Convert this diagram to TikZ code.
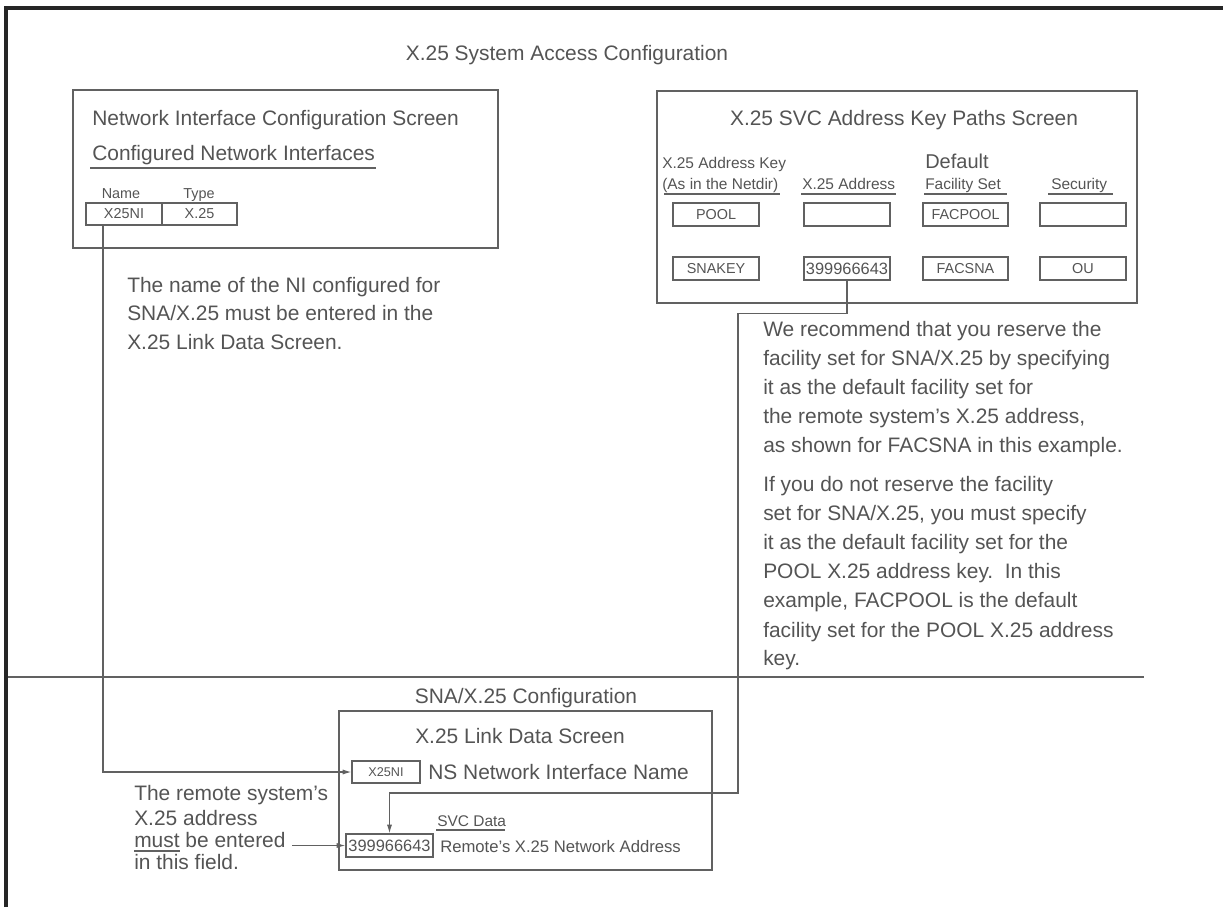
\documentclass[tikz,border=0pt]{standalone}
\usepackage{fontspec}
\setmainfont{Liberation Sans}
\usetikzlibrary{arrows.meta}
\definecolor{ink}{gray}{0.33}
\definecolor{rulec}{gray}{0.38}
\newcommand\fA{\fontsize{15.7}{18}\selectfont}
\newcommand\fB{\fontsize{11.6}{14}\selectfont}
\newcommand\fC{\fontsize{10.8}{13}\selectfont}
\newcommand\fD{\fontsize{12.3}{14}\selectfont}
\newcommand\fDef{\fontsize{15}{17}\selectfont}
\newcommand\fE{\fontsize{9.5}{11}\selectfont}
\newcommand\fF{\fontsize{12.5}{14}\selectfont}
\begin{document}
\begin{tikzpicture}[x=0.75pt,y=-0.75pt,
  txt/.style={inner sep=0pt, text=ink, font=\fA},
  fieldbox/.style={draw=rulec, line width=0.9pt, inner sep=0pt, text=ink},
  screen/.style={draw=rulec, line width=0.9pt, inner sep=0pt},
  conn/.style={draw=rulec, line width=0.9pt},
  arr/.style={conn, -{Latex[length=6.5pt,width=3.8pt]}},
  uline/.style={draw=rulec, line width=0.8pt}]

\useasboundingbox (0,0) rectangle (1223,907);
\draw[line width=2.3pt, black!85] (6,907) -- (6,8) -- (1223,8);

% top title
\node[txt, anchor=base] (ttl) at (567,60) {X.25 System Access Configuration};

% Network Interface Configuration Screen
\node[screen, minimum width=318.75pt, minimum height=118.5pt] (nis) at (285.5,169) {};
\node[txt, anchor=base west] (nist) at (92,125) {Network Interface Configuration Screen};
\node[txt, anchor=base west] (cni) at (92,160) {Configured Network Interfaces};
\draw[uline] (90,168) -- (376,168);
\node[txt, font=\fC, anchor=base] (nmh) at (121,198) {Name};
\node[txt, font=\fC, anchor=base] (tyh) at (199,198) {Type};
\node[fieldbox, font=\fC, minimum width=57pt, minimum height=16.5pt] (nicell) at (124,214) {X25NI};
\node[fieldbox, font=\fC, minimum width=56.25pt, minimum height=16.5pt] (tycell) at (199.5,214) {X.25};

\node[txt, anchor=base west] (n1) at (127,292) {The name of the NI configured for};
\node[txt, anchor=base west] (n2) at (127,320) {SNA/X.25 must be entered in the};
\node[txt, anchor=base west] (n3) at (127,349) {X.25 Link Data Screen.};

% X.25 SVC Address Key Paths Screen
\node[screen, minimum width=360pt, minimum height=159pt] (svc) at (897,197) {};
\node[txt, anchor=base] (svct) at (904,125) {X.25 SVC Address Key Paths Screen};
\node[txt, font=\fB, anchor=base west] (h1a) at (662,168) {X.25 Address Key};
\node[txt, font=\fB, anchor=base west] (h1b) at (662,189) {(As in the Netdir)};
\node[txt, font=\fB, anchor=base west] (h2) at (802,189) {X.25 Address};
\node[txt, font=\fDef, anchor=base west] (h3a) at (925,168) {Default};
\node[txt, font=\fB, anchor=base west] (h3b) at (925,189) {Facility Set};
\node[txt, font=\fB, anchor=base west] (h4) at (1051,189) {Security};
\draw[uline] (664,194) -- (780,194);
\draw[uline] (801,194) -- (896,194);
\draw[uline] (924,194) -- (1007,194);
\draw[uline] (1048,194) -- (1113,194);

\node[fieldbox, font=\fC, minimum width=64.5pt, minimum height=17.25pt] (key1) at (716,214.5) {POOL};
\node[fieldbox, font=\fC, minimum width=64.5pt, minimum height=17.25pt] (addr1) at (847,214.5) {};
\node[fieldbox, font=\fC, minimum width=63.75pt, minimum height=17.25pt] (fac1) at (965.5,214.5) {FACPOOL};
\node[fieldbox, font=\fC, minimum width=64.5pt, minimum height=17.25pt] (sec1) at (1083,214.5) {};
\node[fieldbox, font=\fC, minimum width=64.5pt, minimum height=17.25pt] (key2) at (716,268.5) {SNAKEY};
\node[fieldbox, font=\fD, minimum width=64.5pt, minimum height=17.25pt] (addr2) at (847,268.5) {399966643};
\node[fieldbox, font=\fC, minimum width=63.75pt, minimum height=17.25pt] (fac2) at (965.5,268.5) {FACSNA};
\node[fieldbox, font=\fC, minimum width=64.5pt, minimum height=17.25pt] (sec2) at (1083,268.5) {OU};

% right explanatory text
\node[txt, anchor=base west] (p1) at (763,336) {We recommend that you reserve the};
\node[txt, anchor=base west] (p2) at (763,365) {facility set for SNA/X.25 by specifying};
\node[txt, anchor=base west] (p3) at (763,394) {it as the default facility set for};
\node[txt, anchor=base west] (p4) at (763,423) {the remote system's X.25 address,};
\node[txt, anchor=base west] (p5) at (763,452) {as shown for FACSNA in this example.};
\node[txt, anchor=base west] (q1) at (763,491) {If you do not reserve the facility};
\node[txt, anchor=base west] (q2) at (763,520) {set for SNA/X.25, you must specify};
\node[txt, anchor=base west] (q3) at (763,549) {it as the default facility set for the};
\node[txt, anchor=base west] (q4) at (763,578) {POOL X.25 address key.\ \ In this};
\node[txt, anchor=base west] (q5) at (763,607) {example, FACPOOL is the default};
\node[txt, anchor=base west] (q6) at (763,637) {facility set for the POOL X.25 address};
\node[txt, anchor=base west] (q7) at (763,665) {key.};

% separator
\draw[conn] (8,677) -- (1144,677);

% SNA/X.25 Configuration
\node[txt, anchor=base] (snac) at (526,703) {SNA/X.25 Configuration};
\node[screen, minimum width=279.75pt, minimum height=119.25pt] (lds) at (525.5,790.5) {};
\node[txt, anchor=base] (ldst) at (520,743) {X.25 Link Data Screen};
\node[fieldbox, font=\fE, minimum width=51pt, minimum height=16.5pt] (lniname) at (386,772) {X25NI};
\node[txt, anchor=base west] (nsni) at (428,779) {NS Network Interface Name};
\node[txt, font=\fB, anchor=base west] (svcd) at (437,826) {SVC Data};
\draw[uline] (436,830) -- (505,830);
\node[fieldbox, font=\fD, minimum width=65.25pt, minimum height=17.25pt] (laddr) at (389.5,845.5) {399966643};
\node[txt, font=\fF, anchor=base west] (rnad) at (440,852) {Remote's X.25 Network Address};

% left bottom note
\node[txt, anchor=base west] (r1) at (134,800) {The remote system's};
\node[txt, anchor=base west] (r2) at (134,825) {X.25 address};
\node[txt, anchor=base west] (r3) at (134,847) {must be entered};
\node[txt, anchor=base west] (r4) at (134,869) {in this field.};
\draw[uline] (134,851) -- (180,851);

% connectors
\coordinate (c1) at ([xshift=-15.75pt]nicell.south);
\draw[arr] (c1) |- (lniname.west);
\draw[arr] (addr2.south) -- ++(0,33) -| (738,793) -| (laddr.north);
\coordinate (a3) at (292,845.5);
\draw[arr] (a3) -- (laddr.west);
\end{tikzpicture}
\end{document}
